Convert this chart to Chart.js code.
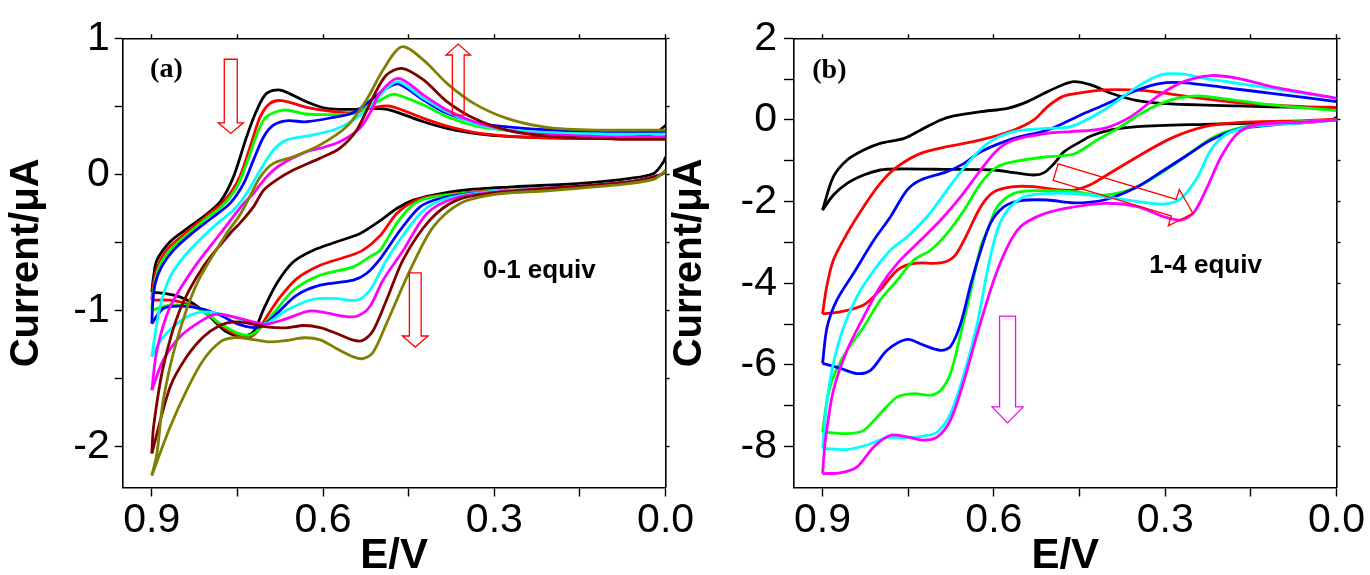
<!DOCTYPE html>
<html>
<head>
<meta charset="utf-8">
<script src="https://cdn.jsdelivr.net/npm/chart.js@4.4.1/dist/chart.umd.min.js"></script>
<style>
  html, body { margin: 0; padding: 0; background: #fff; overflow: hidden; }
  body { width: 1370px; height: 575px; position: relative; }
  .panel { position: absolute; top: 0; }
  #panelA { left: 0; }
  #panelB { left: 663px; }
</style>
</head>
<body>
<div class="panel" id="panelA"><canvas id="chartA" width="710" height="575"></canvas></div>
<div class="panel" id="panelB"><canvas id="chartB" width="710" height="575"></canvas></div>
<script>
// axis ticks (E in V, current in uA)
const eTicks = [0.9, 0.75, 0.6, 0.45, 0.3, 0.15, 0];
const eLabels = ["0.9", "", "0.6", "", "0.3", "", "0.0"];
const aTicks = [1, 0.5, 0, -0.5, -1, -1.5, -2];
const aLabels = ["1", "", "0", "", "-1", "", "-2"];
const bTicks = [2, 1, 0, -1, -2, -3, -4, -5, -6, -7, -8];
const bLabels = ["2", "", "0", "", "-2", "", "-4", "", "-6", "", "-8"];

// panel (a): 0-1 equiv, each loop as [E, I] from 0 V out to 0.9 V and back
const aBlack = [[0,0.36],[0.02,0.30],[0.09,0.267],[0.237,0.272],[0.325,0.296],[0.383,0.338],[0.424,0.387],[0.4825,0.473],[0.512,0.485],[0.547,0.478],[0.594,0.485],[0.629,0.534],[0.675,0.62],[0.699,0.595],[0.716,0.473],[0.734,0.276],[0.757,-0.018],[0.78,-0.2],[0.81,-0.312],[0.839,-0.4],[0.868,-0.495],[0.891,-0.63],[0.897,-0.753],[0.9,-0.865],
  [0.875,-0.875],[0.851,-0.9],[0.827,-0.95],[0.798,-1.047],[0.769,-1.157],[0.742,-1.19],[0.722,-1.157],[0.705,-0.998],[0.681,-0.8],[0.652,-0.642],[0.617,-0.557],[0.576,-0.495],[0.535,-0.434],[0.5,-0.34],[0.471,-0.25],[0.442,-0.189],[0.407,-0.152],[0.354,-0.115],[0.267,-0.091],[0.15,-0.066],[0.062,-0.029],[0.021,0.007],[0.004,0.09],[0,0.13]];
const aRed = [[0,0.267],[0.09,0.267],[0.237,0.272],[0.325,0.301],[0.383,0.355],[0.424,0.412],[0.483,0.502],[0.512,0.49],[0.547,0.453],[0.582,0.461],[0.629,0.493],[0.672,0.542],[0.693,0.522],[0.71,0.424],[0.724,0.252],[0.746,-0.018],[0.772,-0.19],[0.806,-0.311],[0.842,-0.434],[0.874,-0.556],[0.89,-0.679],[0.897,-0.8],[0.9,-0.924],
  [0.868,-0.924],[0.839,-0.95],[0.803,-1.02],[0.78,-1.108],[0.757,-1.169],[0.734,-1.2],[0.716,-1.157],[0.699,-1.047],[0.675,-0.9],[0.646,-0.765],[0.605,-0.667],[0.559,-0.605],[0.53,-0.556],[0.5,-0.45],[0.471,-0.287],[0.442,-0.2],[0.413,-0.164],[0.354,-0.135],[0.208,-0.103],[0.062,-0.054],[0.01,-0.005],[0,0.02]];
const aGreen = [[0,0.30],[0.09,0.30],[0.237,0.313],[0.325,0.35],[0.383,0.424],[0.424,0.51],[0.475,0.59],[0.489,0.571],[0.512,0.517],[0.547,0.449],[0.582,0.44],[0.629,0.444],[0.669,0.473],[0.699,0.424],[0.713,0.326],[0.734,0.081],[0.751,-0.092],[0.778,-0.238],[0.801,-0.311],[0.836,-0.434],[0.868,-0.556],[0.887,-0.679],[0.897,-0.85],[0.9,-0.998],
  [0.868,-0.96],[0.821,-0.98],[0.78,-1.096],[0.751,-1.164],[0.728,-1.18],[0.71,-1.13],[0.687,-1.022],[0.652,-0.851],[0.605,-0.74],[0.547,-0.679],[0.518,-0.605],[0.5,-0.556],[0.471,-0.36],[0.442,-0.22],[0.413,-0.17],[0.354,-0.14],[0.208,-0.103],[0.062,-0.054],[0.01,-0.005],[0,0.02]];
const aBlue = [[0,0.313],[0.09,0.313],[0.237,0.335],[0.325,0.375],[0.383,0.449],[0.424,0.546],[0.468,0.664],[0.489,0.632],[0.512,0.559],[0.547,0.453],[0.582,0.419],[0.629,0.387],[0.664,0.394],[0.687,0.362],[0.704,0.277],[0.722,0.105],[0.739,-0.066],[0.763,-0.213],[0.795,-0.32],[0.83,-0.434],[0.862,-0.556],[0.883,-0.679],[0.894,-0.8],[0.898,-0.924],[0.9,-1.096],
  [0.88,-0.985],[0.851,-0.968],[0.815,-0.985],[0.78,-1.034],[0.751,-1.096],[0.722,-1.125],[0.705,-1.108],[0.681,-1.022],[0.646,-0.887],[0.605,-0.814],[0.547,-0.777],[0.524,-0.728],[0.5,-0.62],[0.465,-0.41],[0.43,-0.238],[0.395,-0.177],[0.337,-0.14],[0.208,-0.103],[0.062,-0.054],[0.01,-0.005],[0,0.02]];
const aCyan = [[0,0.296],[0.09,0.296],[0.237,0.313],[0.325,0.362],[0.383,0.46],[0.424,0.559],[0.468,0.681],[0.489,0.632],[0.512,0.522],[0.547,0.399],[0.582,0.326],[0.629,0.282],[0.664,0.252],[0.687,0.179],[0.71,0.032],[0.734,-0.14],[0.757,-0.262],[0.792,-0.385],[0.839,-0.581],[0.868,-0.753],[0.887,-0.998],[0.9,-1.34],
  [0.88,-1.194],[0.839,-1.047],[0.803,-1.01],[0.763,-1.042],[0.722,-1.096],[0.699,-1.096],[0.664,-0.998],[0.617,-0.917],[0.576,-0.912],[0.541,-0.924],[0.518,-0.851],[0.489,-0.63],[0.462,-0.46],[0.424,-0.263],[0.383,-0.177],[0.3,-0.125],[0.208,-0.103],[0.062,-0.054],[0.01,-0.005],[0,0.02]];
const aMagenta = [[0,0.276],[0.09,0.276],[0.237,0.30],[0.278,0.326],[0.336,0.387],[0.383,0.473],[0.424,0.583],[0.468,0.706],[0.5,0.6],[0.518,0.45],[0.536,0.338],[0.571,0.24],[0.606,0.191],[0.629,0.167],[0.675,0.069],[0.699,-0.018],[0.722,-0.14],[0.739,-0.213],[0.78,-0.434],[0.825,-0.679],[0.868,-0.973],[0.891,-1.29],[0.9,-1.585],
  [0.88,-1.365],[0.851,-1.194],[0.816,-1.083],[0.787,-1.027],[0.757,-1.047],[0.722,-1.083],[0.699,-1.1],[0.664,-1.059],[0.623,-1.003],[0.594,-1.017],[0.565,-1.042],[0.541,-1.042],[0.518,-0.97],[0.495,-0.777],[0.46,-0.56],[0.418,-0.287],[0.371,-0.177],[0.3,-0.13],[0.208,-0.103],[0.062,-0.054],[0.01,-0.005],[0,0.02]];
const aMaroon = [[0,0.257],[0.09,0.26],[0.208,0.282],[0.278,0.326],[0.336,0.412],[0.383,0.534],[0.424,0.694],[0.462,0.779],[0.489,0.73],[0.512,0.571],[0.541,0.326],[0.571,0.191],[0.606,0.118],[0.652,0.032],[0.682,-0.042],[0.704,-0.116],[0.722,-0.238],[0.746,-0.36],[0.763,-0.434],[0.81,-0.679],[0.851,-0.998],[0.88,-1.414],[0.897,-1.856],[0.9,-2.05],
  [0.868,-1.562],[0.839,-1.34],[0.81,-1.194],[0.78,-1.108],[0.757,-1.083],[0.734,-1.091],[0.699,-1.12],[0.664,-1.127],[0.634,-1.11],[0.605,-1.125],[0.576,-1.169],[0.547,-1.218],[0.53,-1.218],[0.512,-1.145],[0.489,-0.924],[0.459,-0.62],[0.413,-0.336],[0.366,-0.189],[0.308,-0.14],[0.208,-0.105],[0.062,-0.055],[0.01,-0.005],[0,0.02]];
const aOlive = [[0,0.326],[0.121,0.326],[0.208,0.346],[0.278,0.412],[0.336,0.522],[0.383,0.669],[0.424,0.84],[0.462,0.938],[0.495,0.767],[0.524,0.547],[0.559,0.35],[0.606,0.215],[0.652,0.13],[0.687,0.081],[0.71,-0.018],[0.728,-0.16],[0.746,-0.30],[0.769,-0.434],[0.821,-0.802],[0.856,-1.218],[0.88,-1.659],[0.891,-2.05],[0.9,-2.211],
  [0.868,-1.856],[0.839,-1.586],[0.81,-1.365],[0.78,-1.23],[0.757,-1.2],[0.722,-1.213],[0.693,-1.23],[0.664,-1.22],[0.634,-1.2],[0.605,-1.215],[0.576,-1.28],[0.547,-1.34],[0.53,-1.353],[0.512,-1.304],[0.489,-1.096],[0.4475,-0.703],[0.407,-0.385],[0.36,-0.213],[0.296,-0.145],[0.208,-0.12],[0.091,-0.079],[0.021,-0.037],[0,0.03]];

// panel (b): 1-4 equiv
const bBlack = [[0,0.31],[0.056,0.31],[0.173,0.343],[0.29,0.392],[0.3485,0.474],[0.395,0.654],[0.43,0.858],[0.46,0.94],[0.48,0.858],[0.506,0.694],[0.541,0.45],[0.576,0.286],[0.623,0.204],[0.67,0.098],[0.693,0.0],[0.728,-0.245],[0.757,-0.45],[0.799,-0.572],[0.828,-0.735],[0.857,-0.98],[0.881,-1.389],[0.9,-2.206],
  [0.881,-1.838],[0.857,-1.552],[0.828,-1.348],[0.799,-1.225],[0.769,-1.2],[0.682,-1.21],[0.6,-1.225],[0.565,-1.29],[0.53,-1.348],[0.512,-1.29],[0.494,-1.06],[0.477,-0.776],[0.448,-0.53],[0.43,-0.392],[0.395,-0.245],[0.3485,-0.163],[0.231,-0.106],[0.114,-0.065],[0.01,0.0],[0,0.06]];
const bRed = [[0,0.31],[0.056,0.327],[0.173,0.425],[0.26,0.572],[0.32,0.694],[0.36,0.735],[0.407,0.735],[0.46,0.637],[0.48,0.572],[0.506,0.327],[0.53,0.0],[0.565,-0.245],[0.623,-0.49],[0.682,-0.654],[0.728,-0.817],[0.769,-1.144],[0.799,-1.552],[0.828,-2.124],[0.857,-2.778],[0.881,-3.43],[0.893,-4.1],[0.9,-4.75],
  [0.869,-4.7],[0.828,-4.53],[0.799,-4.16],[0.769,-3.675],[0.74,-3.51],[0.693,-3.5],[0.67,-3.35],[0.652,-2.94],[0.623,-2.124],[0.6,-1.76],[0.565,-1.634],[0.53,-1.634],[0.494,-1.7],[0.46,-1.716],[0.43,-1.58],[0.407,-1.389],[0.3485,-0.899],[0.29,-0.45],[0.231,-0.163],[0.173,-0.065],[0.056,-0.016],[0,0.016]];
const bGreen = [[0,0.229],[0.114,0.368],[0.202,0.53],[0.243,0.588],[0.29,0.49],[0.337,0.204],[0.378,-0.163],[0.419,-0.49],[0.46,-0.833],[0.506,-0.899],[0.565,-1.02],[0.594,-1.144],[0.623,-1.552],[0.652,-2.206],[0.682,-2.778],[0.711,-3.19],[0.74,-3.43],[0.769,-3.92],[0.799,-4.41],[0.828,-5.07],[0.857,-5.64],[0.881,-6.29],[0.892,-6.86],[0.9,-7.64],
  [0.857,-7.68],[0.828,-7.6],[0.799,-7.19],[0.769,-6.78],[0.74,-6.7],[0.711,-6.74],[0.693,-6.62],[0.676,-6.21],[0.658,-5.23],[0.64,-4.16],[0.623,-3.1],[0.611,-2.7],[0.594,-2.124],[0.565,-1.797],[0.518,-1.73],[0.46,-1.756],[0.407,-1.84],[0.3485,-1.634],[0.29,-1.144],[0.249,-0.735],[0.214,-0.409],[0.173,-0.204],[0.114,-0.09],[0,0.0]];
const bBlue = [[0,0.45],[0.114,0.654],[0.173,0.752],[0.231,0.858],[0.272,0.915],[0.3075,0.899],[0.3485,0.735],[0.407,0.368],[0.448,0.123],[0.506,-0.245],[0.565,-0.45],[0.623,-0.776],[0.652,-1.062],[0.682,-1.266],[0.728,-1.47],[0.752,-1.716],[0.781,-2.37],[0.81,-2.94],[0.846,-3.76],[0.875,-4.41],[0.892,-5.07],[0.9,-5.96],
  [0.869,-6.08],[0.84,-6.21],[0.816,-6.13],[0.787,-5.64],[0.752,-5.375],[0.723,-5.515],[0.693,-5.64],[0.676,-5.55],[0.658,-4.98],[0.64,-4.0],[0.623,-3.2],[0.606,-2.53],[0.582,-2.124],[0.553,-1.977],[0.506,-1.96],[0.46,-2.03],[0.407,-1.96],[0.3485,-1.634],[0.302,-1.225],[0.261,-0.858],[0.22,-0.49],[0.173,-0.229],[0.114,-0.123],[0.056,-0.065],[0,0.0]];
const bCyan = [[0,0.531],[0.114,0.776],[0.173,0.899],[0.231,1.02],[0.272,1.127],[0.3075,1.103],[0.3485,0.817],[0.407,0.245],[0.465,-0.163],[0.506,-0.204],[0.565,-0.286],[0.611,-0.572],[0.646,-1.062],[0.682,-1.716],[0.717,-2.37],[0.752,-2.86],[0.781,-3.19],[0.81,-3.68],[0.84,-4.33],[0.863,-5.07],[0.881,-5.96],[0.892,-6.86],[0.9,-8.04],
  [0.857,-8.07],[0.822,-7.96],[0.787,-7.78],[0.752,-7.78],[0.723,-7.74],[0.699,-7.64],[0.676,-7.19],[0.652,-6.21],[0.629,-4.98],[0.61,-3.6],[0.594,-2.7],[0.576,-2.206],[0.547,-1.879],[0.506,-1.797],[0.465,-1.8],[0.407,-1.879],[0.3485,-2.0],[0.302,-2.06],[0.272,-1.92],[0.243,-1.389],[0.22,-0.735],[0.19,-0.327],[0.14,-0.147],[0.056,-0.065],[0,0.0]];
const bMagenta = [[0,0.531],[0.114,0.817],[0.173,1.02],[0.22,1.087],[0.272,0.915],[0.314,0.572],[0.36,0.082],[0.407,-0.204],[0.465,-0.286],[0.506,-0.327],[0.565,-0.49],[0.594,-0.735],[0.623,-1.225],[0.658,-1.879],[0.693,-2.45],[0.728,-2.94],[0.769,-3.51],[0.799,-4.08],[0.828,-4.82],[0.857,-5.64],[0.881,-6.62],[0.895,-7.84],[0.9,-8.66],
  [0.869,-8.64],[0.84,-8.5],[0.81,-8.0],[0.781,-7.72],[0.752,-7.76],[0.723,-7.84],[0.699,-7.76],[0.676,-7.35],[0.652,-6.37],[0.629,-5.23],[0.6,-3.92],[0.576,-3.1],[0.553,-2.61],[0.518,-2.33],[0.477,-2.17],[0.407,-2.04],[0.3485,-2.12],[0.302,-2.37],[0.272,-2.45],[0.249,-2.25],[0.226,-1.634],[0.202,-0.899],[0.173,-0.327],[0.14,-0.123],[0.056,-0.05],[0,0.0]];

const FONT = "'Liberation Sans', Arial, sans-serif";

function drawArrow(ctx, x0, y0, x1, y1, a) {
    const len = Math.hypot(x1 - x0, y1 - y0);
    const ux = (x1 - x0) / len;
    const uy = (y1 - y0) / len;
    const nx = -uy;
    const ny = ux;
    const bx = x1 - ux * a.head;
    const by = y1 - uy * a.head;
    const pts = [
        [x0 + nx * a.shaft, y0 + ny * a.shaft],
        [bx + nx * a.shaft, by + ny * a.shaft],
        [bx + nx * a.wing, by + ny * a.wing],
        [x1, y1],
        [bx - nx * a.wing, by - ny * a.wing],
        [bx - nx * a.shaft, by - ny * a.shaft],
        [x0 - nx * a.shaft, y0 - ny * a.shaft]
    ];
    ctx.beginPath();
    pts.forEach((p, i) => (i === 0 ? ctx.moveTo(p[0], p[1]) : ctx.lineTo(p[0], p[1])));
    ctx.closePath();
    ctx.strokeStyle = a.color;
    ctx.lineWidth = 1.3;
    ctx.stroke();
}

// arrows and in-plot labels, placed in data units
const annotate = {
    id: "annotate",
    afterDatasetsDraw(chart, args, opts) {
        const { ctx } = chart;
        const xs = chart.scales.x;
        const ys = chart.scales.y;
        ctx.save();
        (opts.arrows || []).forEach((a) => {
            drawArrow(ctx,
                xs.getPixelForValue(a.from[0]), ys.getPixelForValue(a.from[1]),
                xs.getPixelForValue(a.to[0]), ys.getPixelForValue(a.to[1]), a);
        });
        (opts.labels || []).forEach((t) => {
            ctx.font = t.font;
            ctx.fillStyle = "#000";
            ctx.textAlign = "left";
            ctx.textBaseline = "alphabetic";
            ctx.fillText(t.text, xs.getPixelForValue(t.at[0]), ys.getPixelForValue(t.at[1]));
        });
        ctx.restore();
    }
};

function splitLoop(points) {
    let turn = 0;
    points.forEach((p, i) => {
        if (p[0] > points[turn][0]) turn = i;
    });
    const toXY = (arr) => arr.map((p) => ({ x: p[0], y: p[1] }));
    return [toXY(points.slice(0, turn + 1)), toXY(points.slice(turn))];
}

function frameAxis(position, min, max, reverse, ticks) {
    const horizontal = position === "top" || position === "bottom";
    return {
        type: "linear",
        position,
        min,
        max,
        reverse,
        afterBuildTicks: (s) => { s.ticks = ticks.map((v) => ({ value: v })); },
        afterFit: (s) => { if (horizontal) s.height = 0; else s.width = 0; },
        grid: { drawOnChartArea: false, drawTicks: true, tickLength: 4, tickWidth: 1.4, tickColor: "#000" },
        border: { display: true, color: "#000", width: 1.6 },
        ticks: { display: false }
    };
}

function makeChart(canvasId, p) {
    const datasets = [];
    p.curves.forEach((c, i) => {
        splitLoop(c.points).forEach((branch) => {
            datasets.push({
                data: branch,
                borderColor: c.color,
                backgroundColor: c.color,
                borderWidth: 2.8,
                showLine: true,
                pointRadius: 0,
                tension: 0.3,
                fill: false,
                order: p.curves.length - i
            });
        });
    });

    return new Chart(document.getElementById(canvasId), {
        type: "scatter",
        data: { datasets },
        plugins: [annotate],
        options: {
            responsive: false,
            animation: false,
            devicePixelRatio: 1,
            layout: { padding: { left: 0, top: 38.3, right: 710 - p.plotRight, bottom: 0 } },
            plugins: {
                legend: { display: false },
                tooltip: { enabled: false },
                annotate: { arrows: p.arrows, labels: p.labels }
            },
            scales: {
                x: {
                    type: "linear",
                    position: "bottom",
                    min: 0,
                    max: p.eMax,
                    reverse: true,
                    afterBuildTicks: (s) => { s.ticks = eTicks.map((v) => ({ value: v })); },
                    afterFit: (s) => { s.height = 87.5; },
                    grid: { drawOnChartArea: false, drawTicks: true, tickLength: 9, tickWidth: 1.4, tickColor: "#000" },
                    border: { display: true, color: "#000", width: 1.6 },
                    ticks: {
                        color: "#000",
                        font: { family: FONT, size: 41 },
                        padding: 0,
                        maxRotation: 0,
                        autoSkip: false,
                        callback: (v, i) => eLabels[i]
                    },
                    title: {
                        display: true,
                        text: "E/V",
                        color: "#000",
                        font: { family: FONT, size: 42, weight: "bold", lineHeight: 0.9 },
                        padding: 0
                    }
                },
                y: {
                    type: "linear",
                    position: "left",
                    min: p.iMin,
                    max: p.iMax,
                    afterBuildTicks: (s) => { s.ticks = p.iTicks.map((v) => ({ value: v })); },
                    afterFit: (s) => { s.width = p.plotLeft; },
                    grid: { drawOnChartArea: false, drawTicks: true, tickLength: p.yTickLen, tickWidth: 1.4, tickColor: "#000" },
                    border: { display: true, color: "#000", width: 1.6 },
                    ticks: {
                        color: "#000",
                        font: { family: FONT, size: 41 },
                        padding: p.yTickPad,
                        autoSkip: false,
                        callback: (v, i) => p.iLabels[i]
                    },
                    title: {
                        display: true,
                        text: "Current/\u03bcA",
                        color: "#000",
                        font: { family: FONT, size: 40, weight: "bold", lineHeight: 1 },
                        padding: { top: 7, bottom: 0 }
                    }
                },
                x2: frameAxis("top", 0, p.eMax, true, eTicks),
                y2: frameAxis("right", p.iMin, p.iMax, false, p.iTicks)
            }
        }
    });
}

document.addEventListener("DOMContentLoaded", () => {
    makeChart("chartA", {
        plotLeft: 122.7,
        plotRight: 665.6,
        eMax: 0.951,
        iMin: -2.3,
        iMax: 1,
        iTicks: aTicks,
        iLabels: aLabels,
        yTickLen: 8,
        yTickPad: 5,
        curves: [
            { color: "#000000", points: aBlack },
            { color: "#ff0000", points: aRed },
            { color: "#00ff00", points: aGreen },
            { color: "#0000ff", points: aBlue },
            { color: "#00ffff", points: aCyan },
            { color: "#ff00ff", points: aMagenta },
            { color: "#800000", points: aMaroon },
            { color: "#808000", points: aOlive }
        ],
        arrows: [
            { from: [0.7617, 0.846], to: [0.7617, 0.301], shaft: 6.5, wing: 12.5, head: 10.6, color: "#ff0000" },
            { from: [0.3632, 0.436], to: [0.3632, 0.958], shaft: 5.9, wing: 12.3, head: 11, color: "#ff0000" },
            { from: [0.4385, -0.7235], to: [0.4385, -1.268], shaft: 5.9, wing: 12.8, head: 11, color: "#ff0000" }
        ],
        labels: [
            { text: "(a)", at: [0.903, 0.715], font: "bold 28px 'Liberation Serif', 'Times New Roman', serif" },
            { text: "0-1 equiv", at: [0.3198, -0.7625], font: "bold 26px " + FONT }
        ]
    });

    makeChart("chartB", {
        plotLeft: 131,
        plotRight: 1336.5 - 663,
        eMax: 0.95,
        iMin: -9,
        iMax: 2,
        iTicks: bTicks,
        iLabels: bLabels,
        yTickLen: 10,
        yTickPad: 7,
        curves: [
            { color: "#000000", points: bBlack },
            { color: "#ff0000", points: bRed },
            { color: "#00ff00", points: bGreen },
            { color: "#0000ff", points: bBlue },
            { color: "#00ffff", points: bCyan },
            { color: "#ff00ff", points: bMagenta }
        ],
        arrows: [
            { from: [0.4918, -1.275], to: [0.2514, -2.289], shaft: 8.6, wing: 19, head: 20, color: "#ff0000" },
            { from: [0.576, -4.804], to: [0.576, -7.419], shaft: 8, wing: 15.5, head: 16, color: "#ff00ff" }
        ],
        labels: [
            { text: "(b)", at: [0.918, 1.03], font: "bold 28px 'Liberation Serif', 'Times New Roman', serif" },
            { text: "1-4 equiv", at: [0.328, -3.75], font: "bold 26px " + FONT }
        ]
    });
});
</script>
</body>
</html>
